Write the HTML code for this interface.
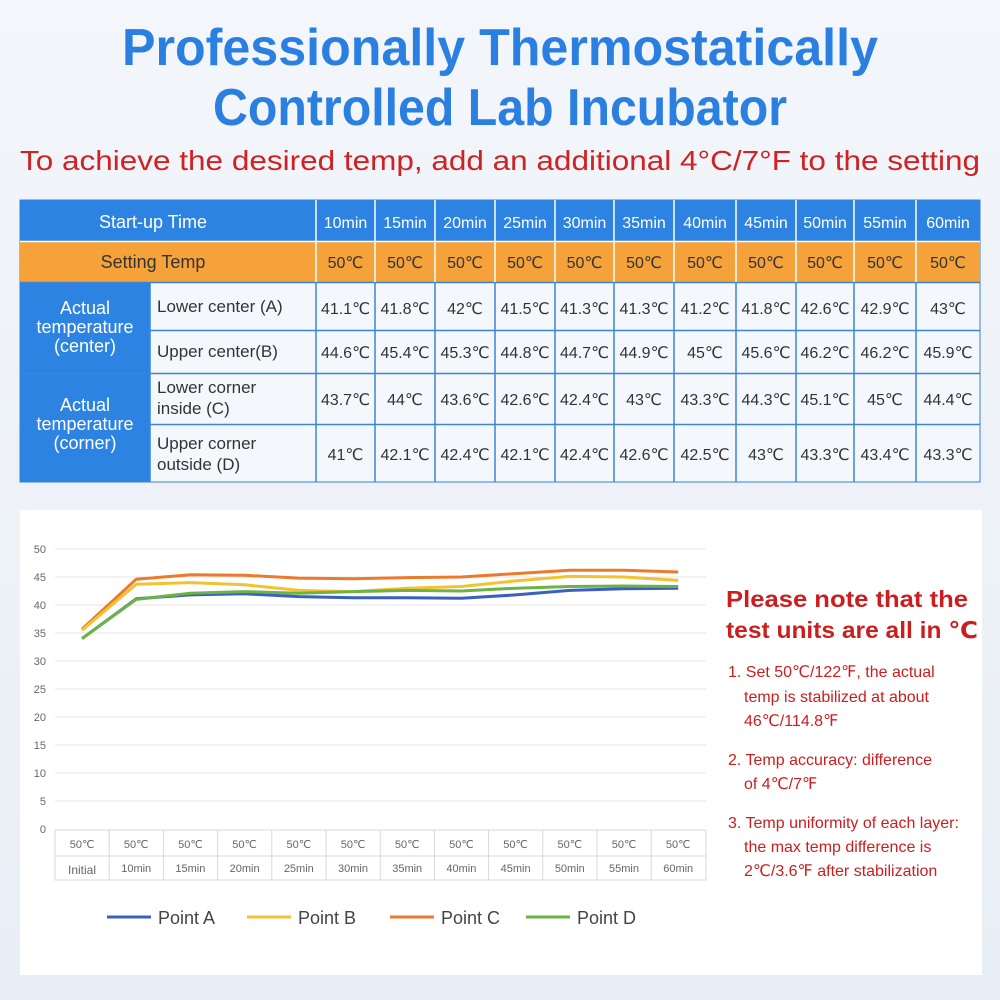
<!DOCTYPE html>
<html><head><meta charset="utf-8"><style>
body{margin:0;background:#eef3f8}
svg{display:block}
</style></head><body>
<svg width="1000" height="1000" xmlns="http://www.w3.org/2000/svg" font-family="Liberation Sans, DejaVu Sans, sans-serif">
<defs><linearGradient id="bg" x1="0" y1="0" x2="0" y2="1"><stop offset="0" stop-color="#f3f6fa"/><stop offset="1" stop-color="#e8eef5"/></linearGradient></defs>
<rect width="1000" height="1000" fill="url(#bg)"/>
<text x="500" y="65" text-anchor="middle" font-size="52" font-weight="bold" fill="#2b7fe0" textLength="756" lengthAdjust="spacingAndGlyphs">Professionally Thermostatically</text>
<text x="500" y="125" text-anchor="middle" font-size="52" font-weight="bold" fill="#2b7fe0" textLength="574" lengthAdjust="spacingAndGlyphs">Controlled Lab Incubator</text>
<text x="500" y="170" text-anchor="middle" font-size="28" fill="#cf2224" textLength="960" lengthAdjust="spacingAndGlyphs">To achieve the desired temp, add an additional 4°C/7°F to the setting</text>
<!-- table -->
<rect x="20" y="200" width="960" height="282" fill="#f4f8fc" stroke="#3a7fd0"/>
<rect x="20" y="200" width="960" height="41" fill="#2d83e2"/>
<rect x="20" y="242" width="960" height="40" fill="#f6a23a"/>
<rect x="20" y="283" width="130" height="199" fill="#2d83e2"/>
<g stroke="#3d84d6" stroke-width="1.5">
<line x1="20" y1="241.5" x2="980" y2="241.5" stroke="#fff"/>
<line x1="20" y1="282.5" x2="980" y2="282.5"/>
<line x1="150" y1="330.5" x2="980" y2="330.5"/>
<line x1="20" y1="373.5" x2="980" y2="373.5"/>
<line x1="150" y1="424.5" x2="980" y2="424.5"/>
<line x1="150" y1="283" x2="150" y2="482"/>
</g>
<g stroke="#fff" stroke-width="1.5">
<line x1="316" y1="200" x2="316" y2="282"/><line x1="375" y1="200" x2="375" y2="282"/><line x1="435" y1="200" x2="435" y2="282"/><line x1="495" y1="200" x2="495" y2="282"/><line x1="555" y1="200" x2="555" y2="282"/><line x1="614" y1="200" x2="614" y2="282"/><line x1="674" y1="200" x2="674" y2="282"/><line x1="736" y1="200" x2="736" y2="282"/><line x1="796" y1="200" x2="796" y2="282"/><line x1="854" y1="200" x2="854" y2="282"/><line x1="916" y1="200" x2="916" y2="282"/>
</g>
<g stroke="#3d84d6" stroke-width="1.5">
<line x1="316" y1="283" x2="316" y2="482"/><line x1="375" y1="283" x2="375" y2="482"/><line x1="435" y1="283" x2="435" y2="482"/><line x1="495" y1="283" x2="495" y2="482"/><line x1="555" y1="283" x2="555" y2="482"/><line x1="614" y1="283" x2="614" y2="482"/><line x1="674" y1="283" x2="674" y2="482"/><line x1="736" y1="283" x2="736" y2="482"/><line x1="796" y1="283" x2="796" y2="482"/><line x1="854" y1="283" x2="854" y2="482"/><line x1="916" y1="283" x2="916" y2="482"/>
</g>
<g font-size="18" text-anchor="middle">
<text x="153" y="228" fill="#fff">Start-up Time</text>
<text x="153" y="268" fill="#333">Setting Temp</text>
<g fill="#fff" font-size="18"><text x="85" y="314">Actual</text><text x="85" y="333">temperature</text><text x="85" y="352">(center)</text>
<text x="85" y="411">Actual</text><text x="85" y="430">temperature</text><text x="85" y="449">(corner)</text></g>
</g>
<g font-size="17" fill="#333"><text x="157" y="312">Lower center (A)</text><text x="157" y="357">Upper center(B)</text><text x="157" y="393">Lower corner</text><text x="157" y="414">inside (C)</text><text x="157" y="449">Upper corner</text><text x="157" y="470">outside (D)</text></g>
<g font-size="16" text-anchor="middle">
<g fill="#fff"><text x="345.5" y="228">10min</text><text x="405" y="228">15min</text><text x="465" y="228">20min</text><text x="525" y="228">25min</text><text x="584.5" y="228">30min</text><text x="644" y="228">35min</text><text x="705" y="228">40min</text><text x="766" y="228">45min</text><text x="825" y="228">50min</text><text x="885" y="228">55min</text><text x="948" y="228">60min</text></g>
<g fill="#333"><text x="345.5" y="268">50℃</text><text x="405" y="268">50℃</text><text x="465" y="268">50℃</text><text x="525" y="268">50℃</text><text x="584.5" y="268">50℃</text><text x="644" y="268">50℃</text><text x="705" y="268">50℃</text><text x="766" y="268">50℃</text><text x="825" y="268">50℃</text><text x="885" y="268">50℃</text><text x="948" y="268">50℃</text>
<text x="345.5" y="314">41.1℃</text><text x="405" y="314">41.8℃</text><text x="465" y="314">42℃</text><text x="525" y="314">41.5℃</text><text x="584.5" y="314">41.3℃</text><text x="644" y="314">41.3℃</text><text x="705" y="314">41.2℃</text><text x="766" y="314">41.8℃</text><text x="825" y="314">42.6℃</text><text x="885" y="314">42.9℃</text><text x="948" y="314">43℃</text>
<text x="345.5" y="358">44.6℃</text><text x="405" y="358">45.4℃</text><text x="465" y="358">45.3℃</text><text x="525" y="358">44.8℃</text><text x="584.5" y="358">44.7℃</text><text x="644" y="358">44.9℃</text><text x="705" y="358">45℃</text><text x="766" y="358">45.6℃</text><text x="825" y="358">46.2℃</text><text x="885" y="358">46.2℃</text><text x="948" y="358">45.9℃</text>
<text x="345.5" y="405">43.7℃</text><text x="405" y="405">44℃</text><text x="465" y="405">43.6℃</text><text x="525" y="405">42.6℃</text><text x="584.5" y="405">42.4℃</text><text x="644" y="405">43℃</text><text x="705" y="405">43.3℃</text><text x="766" y="405">44.3℃</text><text x="825" y="405">45.1℃</text><text x="885" y="405">45℃</text><text x="948" y="405">44.4℃</text>
<text x="345.5" y="460">41℃</text><text x="405" y="460">42.1℃</text><text x="465" y="460">42.4℃</text><text x="525" y="460">42.1℃</text><text x="584.5" y="460">42.4℃</text><text x="644" y="460">42.6℃</text><text x="705" y="460">42.5℃</text><text x="766" y="460">43℃</text><text x="825" y="460">43.3℃</text><text x="885" y="460">43.4℃</text><text x="948" y="460">43.3℃</text></g>
</g>
<!-- chart panel -->
<rect x="20" y="510" width="962" height="465" fill="#fff"/>
<g stroke="#e4e4e4" stroke-width="1">
<line x1="55" y1="549" x2="706" y2="549"/><line x1="55" y1="577" x2="706" y2="577"/><line x1="55" y1="605" x2="706" y2="605"/><line x1="55" y1="633" x2="706" y2="633"/><line x1="55" y1="661" x2="706" y2="661"/><line x1="55" y1="689" x2="706" y2="689"/><line x1="55" y1="717" x2="706" y2="717"/><line x1="55" y1="745" x2="706" y2="745"/><line x1="55" y1="773" x2="706" y2="773"/><line x1="55" y1="801" x2="706" y2="801"/>
</g>
<g font-size="11" fill="#666" text-anchor="end"><text x="46" y="553">50</text><text x="46" y="581">45</text><text x="46" y="609">40</text><text x="46" y="637">35</text><text x="46" y="665">30</text><text x="46" y="693">25</text><text x="46" y="721">20</text><text x="46" y="749">15</text><text x="46" y="777">10</text><text x="46" y="805">5</text><text x="46" y="833">0</text></g>
<g stroke="#d8d8d8" stroke-width="1" fill="none">
<rect x="55" y="830" width="651" height="50"/><line x1="55" y1="856" x2="706" y2="856"/>
<line x1="109.2" y1="830" x2="109.2" y2="880"/><line x1="163.4" y1="830" x2="163.4" y2="880"/><line x1="217.6" y1="830" x2="217.6" y2="880"/><line x1="271.8" y1="830" x2="271.8" y2="880"/><line x1="326" y1="830" x2="326" y2="880"/><line x1="380.2" y1="830" x2="380.2" y2="880"/><line x1="434.4" y1="830" x2="434.4" y2="880"/><line x1="488.6" y1="830" x2="488.6" y2="880"/><line x1="542.8" y1="830" x2="542.8" y2="880"/><line x1="597" y1="830" x2="597" y2="880"/><line x1="651.2" y1="830" x2="651.2" y2="880"/>
</g>
<g font-size="11" fill="#666" text-anchor="middle">
<text x="82" y="848">50℃</text><text x="136.2" y="848">50℃</text><text x="190.4" y="848">50℃</text><text x="244.6" y="848">50℃</text><text x="298.8" y="848">50℃</text><text x="353" y="848">50℃</text><text x="407.2" y="848">50℃</text><text x="461.4" y="848">50℃</text><text x="515.6" y="848">50℃</text><text x="569.8" y="848">50℃</text><text x="624" y="848">50℃</text><text x="678.2" y="848">50℃</text>
<text x="82" y="874" font-size="12">Initial</text><text x="136.2" y="872">10min</text><text x="190.4" y="872">15min</text><text x="244.6" y="872">20min</text><text x="298.8" y="872">25min</text><text x="353" y="872">30min</text><text x="407.2" y="872">35min</text><text x="461.4" y="872">40min</text><text x="515.6" y="872">45min</text><text x="569.8" y="872">50min</text><text x="624" y="872">55min</text><text x="678.2" y="872">60min</text>
</g>
<g fill="none" stroke-width="3" stroke-linejoin="round">
<polyline stroke="#ec7a2c" points="82,629.1 136.2,579.2 190.4,574.8 244.6,575.3 298.8,578.1 353,578.7 407.2,577.6 461.4,577 515.6,573.6 569.8,570.3 624,570.3 678.2,572"/>
<polyline stroke="#f1c232" points="82,630.2 136.2,584.3 190.4,582.6 244.6,584.8 298.8,590.4 353,591.6 407.2,588.2 461.4,586.5 515.6,580.9 569.8,576.4 624,577 678.2,580.4"/>
<polyline stroke="#3a5fc0" points="82,638.6 136.2,598.8 190.4,594.9 244.6,593.8 298.8,596.6 353,597.7 407.2,597.7 461.4,598.3 515.6,594.9 569.8,590.4 624,588.8 678.2,588.2"/>
<polyline stroke="#6ab344" points="82,638.6 136.2,599.4 190.4,593.2 244.6,591.6 298.8,593.2 353,591.6 407.2,590.4 461.4,591 515.6,588.2 569.8,586.5 624,586 678.2,586.5"/>
</g>
<g stroke-width="3">
<line x1="107" y1="917" x2="151" y2="917" stroke="#3a5fc0"/><line x1="247" y1="917" x2="291" y2="917" stroke="#f1c232"/><line x1="390" y1="917" x2="434" y2="917" stroke="#ec7a2c"/><line x1="526" y1="917" x2="570" y2="917" stroke="#6ab344"/>
</g>
<g font-size="18" fill="#444"><text x="158" y="924">Point A</text><text x="298" y="924">Point B</text><text x="441" y="924">Point C</text><text x="577" y="924">Point D</text></g>
<g fill="#cc1d1f" font-weight="bold" font-size="23"><text x="726" y="607" textLength="242" lengthAdjust="spacingAndGlyphs">Please note that the</text><text x="726" y="638" textLength="252" lengthAdjust="spacingAndGlyphs">test units are all in ℃</text></g>
<g fill="#cc1d1f" font-size="16"><text x="728" y="677">1. Set 50℃/122℉, the actual</text><text x="744" y="702">temp is stabilized at about</text><text x="744" y="726">46℃/114.8℉</text>
<text x="728" y="765">2. Temp accuracy: difference</text><text x="744" y="789">of 4℃/7℉</text>
<text x="728" y="828">3. Temp uniformity of each layer:</text><text x="744" y="852">the max temp difference is</text><text x="744" y="876">2℃/3.6℉ after stabilization</text></g>
</svg>
</body></html>
